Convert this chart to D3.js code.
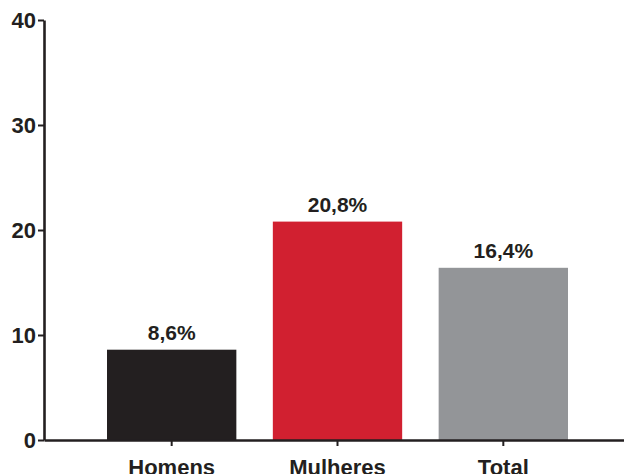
<!DOCTYPE html>
<html>
<head>
<meta charset="utf-8">
<script src="https://cdn.jsdelivr.net/npm/d3@7"></script>
<style>
  html, body { margin: 0; padding: 0; background: #fff; }
  svg { display: block; }
  text { font-family: "Liberation Sans", Arial, Helvetica, sans-serif; font-weight: bold; fill: #231f20; }
</style>
</head>
<body>
<script>
// Categories, values (%) and bar colours
const categories = ["Homens", "Mulheres", "Total"];
const values = [8.6, 20.8, 16.4];
const valueLabels = ["8,6%", "20,8%", "16,4%"];
const colors = ["#231f20", "#d12030", "#939598"];
const yTicks = [0, 10, 20, 30, 40];

const width = 624, height = 474;
const svg = d3.select("body").append("svg")
  .attr("width", width).attr("height", height);

const x = d3.scaleBand()
  .domain(categories)
  .range([44, 631])
  .paddingInner(0.22)
  .paddingOuter(0.38);

const y = d3.scaleLinear()
  .domain([0, 40])
  .range([440, 20]);

// Bars
svg.append("g").selectAll("rect")
  .data(categories)
  .join("rect")
  .attr("x", d => x(d))
  .attr("y", (d, i) => y(values[i]))
  .attr("width", x.bandwidth())
  .attr("height", (d, i) => y(0) - y(values[i]))
  .attr("fill", (d, i) => colors[i]);

// Value labels above bars
svg.append("g").selectAll("text")
  .data(categories)
  .join("text")
  .attr("x", d => x(d) + x.bandwidth() / 2)
  .attr("y", (d, i) => y(values[i]) - 10)
  .attr("text-anchor", "middle")
  .style("font-size", "21px")
  .text((d, i) => valueLabels[i]);

// Y axis
const yAxis = svg.append("g")
  .attr("transform", "translate(44,0)")
  .call(d3.axisLeft(y).tickValues(yTicks).tickSize(6).tickSizeOuter(0).tickPadding(2));
yAxis.select(".domain").attr("stroke", "#231f20").attr("stroke-width", 2.6);
yAxis.selectAll(".tick line").attr("stroke", "#231f20").attr("stroke-width", 2);
yAxis.selectAll(".tick text")
  .style("font-size", "22px")
  .style("font-family", "'Liberation Sans', Arial, sans-serif")
  .style("font-weight", "bold")
  .attr("fill", "#231f20");

// X axis
const xAxis = svg.append("g")
  .attr("transform", "translate(0,440)")
  .call(d3.axisBottom(x).tickSize(6).tickSizeOuter(0).tickPadding(13));
xAxis.select(".domain").attr("stroke", "#231f20").attr("stroke-width", 2.6);
xAxis.selectAll(".tick line").attr("stroke", "#231f20").attr("stroke-width", 2);
xAxis.selectAll(".tick text")
  .style("font-size", "22px")
  .style("font-family", "'Liberation Sans', Arial, sans-serif")
  .style("font-weight", "bold")
  .attr("fill", "#231f20");
</script>
</body>
</html>
